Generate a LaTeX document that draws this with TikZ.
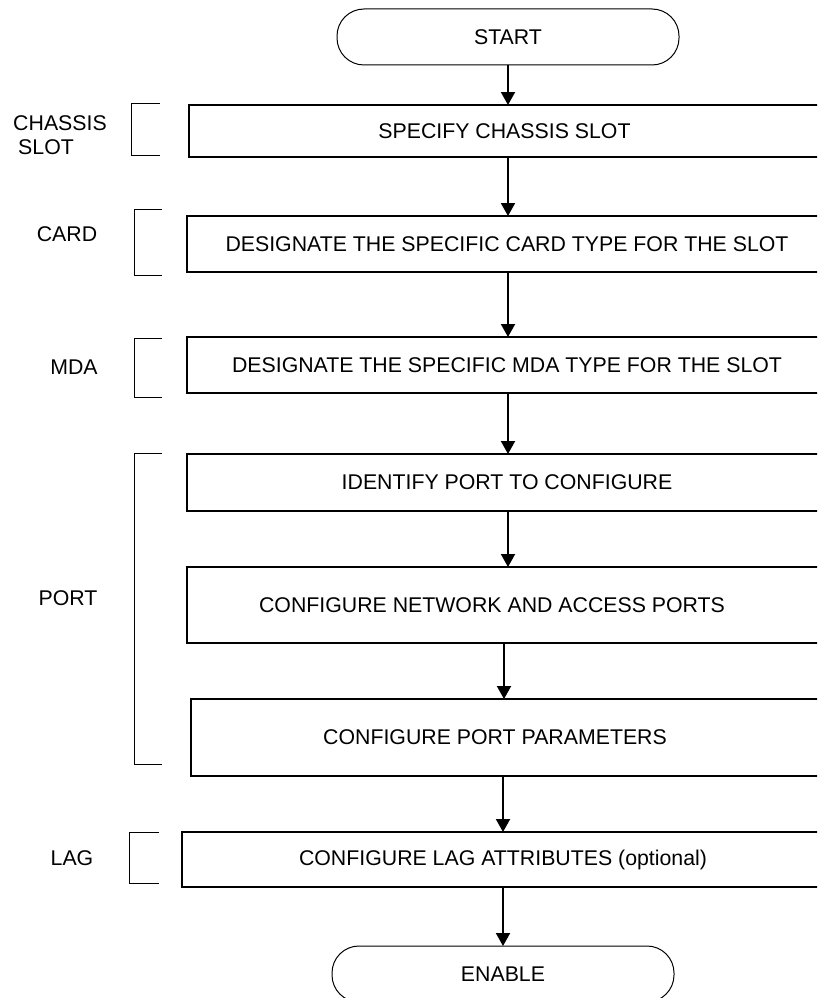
\documentclass[tikz,border=0pt]{standalone}
\usepackage{fontspec}
\setmainfont{Liberation Sans}
\usetikzlibrary{arrows.meta}
\tikzset{
  procbox/.style={draw, line width=2pt, rectangle, anchor=north west, inner sep=0pt, outer sep=0pt, font=\fontsize{21.3}{25}\selectfont},
  termbox/.style={draw, line width=1pt, rectangle, rounded corners=27pt, minimum width=342pt, minimum height=56pt, inner sep=0pt, outer sep=0pt, font=\fontsize{21.3}{25}\selectfont},
  flow/.style={line width=2pt, -{Triangle[width=14pt,length=13pt]}},
  brk/.style={line width=1pt},
  side/.style={font=\fontsize{21.3}{24}\selectfont, inner sep=0pt}
}
\begin{document}
\begin{tikzpicture}[x=1pt,y=-1pt]
\useasboundingbox (0,0) rectangle (817,998);
\clip (0,0) rectangle (817,998);

% terminals
\node[termbox] (start) at (508,37) {START};
\node[termbox] (enable) at (503,974) {ENABLE};

% process boxes
\node[procbox, minimum width=641pt, minimum height=52pt] (b1) at (189,105) {SPECIFY CHASSIS SLOT\hspace*{10pt}};
\node[procbox, minimum width=643pt, minimum height=56pt] (b2) at (187,216) {DESIGNATE THE SPECIFIC CARD TYPE FOR THE SLOT\hspace*{3pt}};
\node[procbox, minimum width=643pt, minimum height=56pt] (b3) at (187,337) {DESIGNATE THE SPECIFIC MDA TYPE FOR THE SLOT\hspace*{3pt}};
\node[procbox, minimum width=643pt, minimum height=57pt] (b4) at (187,454) {IDENTIFY PORT TO CONFIGURE\hspace*{3pt}};
\node[procbox, minimum width=643pt, minimum height=76pt] (b5) at (187,567) {CONFIGURE NETWORK AND ACCESS PORTS\hspace*{33pt}};
\node[procbox, minimum width=639pt, minimum height=77pt] (b6) at (191,699) {CONFIGURE PORT PARAMETERS\hspace*{31pt}};
\node[procbox, minimum width=648pt, minimum height=55pt] (b7) at (182,832) {CONFIGURE LAG ATTRIBUTES (optional)\hspace*{6pt}};

% connectors
\draw[flow] (start.south) -- (start.south |- b1.north);
\draw[flow] (b1.south -| start.south) -- (b2.north -| start.south);
\draw[flow] (b2.south -| start.south) -- (b3.north -| start.south);
\draw[flow] (b3.south -| start.south) -- (b4.north -| start.south);
\draw[flow] (b4.south -| start.south) -- (b5.north -| start.south);
\draw[flow] ([xshift=-4.5pt]b5.south) -- ([xshift=-4.5pt]b5.south |- b6.north);
\draw[flow] (b6.south -| enable.north) -- (b7.north -| enable.north);
\draw[flow] (b7.south -| enable.north) -- (enable.north);

% side labels
\node[side, align=left] (lchassis) at (60,135) {CHASSIS\\\hspace*{5pt}SLOT};
\node[side] (lcard) at (67,234) {CARD};
\node[side] (lmda) at (74,367) {MDA};
\node[side] (lport) at (68,598) {PORT};
\node[side] (llag) at (72,858) {LAG};

% brackets
\draw[brk] (160,103) -- (131,103) -- (131,155) -- (160,155);
\draw[brk] (162,209) -- (134,209) -- (134,275) -- (162,275);
\draw[brk] (162,338) -- (134,338) -- (134,397) -- (162,397);
\draw[brk] (162,453) -- (134,453) -- (134,764) -- (162,764);
\draw[brk] (159,832) -- (129,832) -- (129,883) -- (159,883);
\end{tikzpicture}
\end{document}
